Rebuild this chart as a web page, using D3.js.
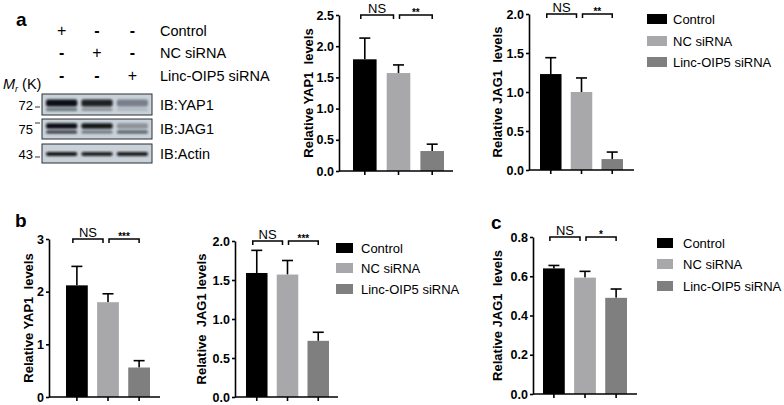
<!DOCTYPE html>
<html><head><meta charset="utf-8">
<script src="https://cdn.jsdelivr.net/npm/d3@7"></script>
<style>body{margin:0;background:#fff} svg{display:block;font-family:"Liberation Sans",Arial,sans-serif}</style>
</head><body><svg id="c" width="784" height="405"></svg>
<script>
// ---------- data ----------
const groups = ["Control", "NC siRNA", "Linc-OIP5 siRNA"];
const groupColors = ["#000000", "#a8a8aa", "#7f7f7f"];

const yap1A = [1.79, 1.57, 0.32];
const yap1AErr = [0.34, 0.13, 0.11];
const jag1A = [1.23, 1.00, 0.14];
const jag1AErr = [0.21, 0.18, 0.09];
const yap1B = [2.12, 1.80, 0.56];
const yap1BErr = [0.36, 0.16, 0.13];
const jag1B = [1.59, 1.57, 0.72];
const jag1BErr = [0.29, 0.18, 0.11];
const jag1C = [0.64, 0.593, 0.49];
const jag1CErr = [0.015, 0.032, 0.045];

const sigA1 = ["NS", "**"];
const sigA2 = ["NS", "**"];
const sigB1 = ["NS", "***"];
const sigB2 = ["NS", "***"];
const sigC = ["NS", "*"];

const ticksA1 = [0, 0.5, 1.0, 1.5, 2.0, 2.5];
const ticksA2 = [0, 0.5, 1.0, 1.5, 2.0];
const ticksB1 = [0, 1, 2, 3];
const ticksB2 = [0, 0.5, 1.0, 1.5, 2.0];
const ticksC = [0, 0.2, 0.4, 0.6, 0.8];

const rowLabels = ["Control", "NC siRNA", "Linc-OIP5 siRNA"];
const treatControl = ["+", "-", "-"];
const treatNC = ["-", "+", "-"];
const treatLinc = ["-", "-", "+"];
const mwLabels = ["72", "75", "43"];
const ibLabels = ["IB:YAP1", "IB:JAG1", "IB:Actin"];
const bandYAP1 = [1.0, 0.9, 0.4];
const bandYAP1Lower = [0.5, 0.3, 0.12];
const bandJAG1 = [1.0, 0.95, 0.3];
const bandJAG1Lower = [0.8, 0.45, 0.6];
const bandActin = [0.95, 0.9, 0.92];

// ---------- drawing ----------
const svg = d3.select("#c");
const defs = svg.append("defs");
defs.append("filter").attr("id", "blur").attr("x", "-20%").attr("y", "-80%").attr("width", "140%").attr("height", "260%")
  .append("feGaussianBlur").attr("stdDeviation", "1.2 0.8");

function panelLetter(t, x, y) {
  svg.append("text").attr("x", x).attr("y", y).attr("font-size", 19).attr("font-weight", "bold").text(t);
}

function barChart(cfg) {
  const g = svg.append("g");
  const maxV = cfg.ticks[cfg.ticks.length - 1];
  const y = d3.scaleLinear().domain([0, maxV]).range([cfg.bottom, cfg.top]);
  const x = d3.scaleBand().domain(groups).range([cfg.barFrom, cfg.barTo]).paddingInner(0.3).paddingOuter(0);
  const bw = x.bandwidth();
  const data = groups.map((k, i) => ({k, v: cfg.values[i], e: cfg.errs[i], c: groupColors[i]}));

  // error bars (upper only)
  g.selectAll(".eb").data(data).join("line")
    .attr("x1", d => x(d.k) + bw / 2).attr("x2", d => x(d.k) + bw / 2)
    .attr("y1", d => y(d.v)).attr("y2", d => y(d.v + d.e))
    .attr("stroke", "#000").attr("stroke-width", 1.6);
  g.selectAll(".cap").data(data).join("line")
    .attr("x1", d => x(d.k) + bw / 2 - 5.5).attr("x2", d => x(d.k) + bw / 2 + 5.5)
    .attr("y1", d => y(d.v + d.e)).attr("y2", d => y(d.v + d.e))
    .attr("stroke", "#000").attr("stroke-width", 1.6);
  g.selectAll(".bar").data(data).join("rect")
    .attr("x", d => x(d.k)).attr("width", bw)
    .attr("y", d => y(d.v)).attr("height", d => cfg.bottom - y(d.v))
    .attr("fill", d => d.c);

  // y axis
  const ya = g.append("g").attr("transform", `translate(${cfg.axisX},0)`)
    .call(d3.axisLeft(y).tickValues(cfg.ticks).tickFormat(cfg.fmt).tickSize(3).tickSizeOuter(0).tickPadding(2));
  ya.attr("font-size", 12.5).attr("font-family", "Liberation Sans, Arial, sans-serif");
  ya.selectAll("path,line").attr("stroke", "#000").attr("stroke-width", 1.6);
  ya.selectAll("text").attr("font-weight", "bold").attr("fill", "#000");

  // x axis
  g.append("line").attr("x1", cfg.axisX).attr("x2", cfg.axisEnd).attr("y1", cfg.bottom).attr("y2", cfg.bottom)
    .attr("stroke", "#000").attr("stroke-width", 1.6);
  g.selectAll(".xt").data(data).join("line")
    .attr("x1", d => x(d.k) + bw / 2).attr("x2", d => x(d.k) + bw / 2)
    .attr("y1", cfg.bottom).attr("y2", cfg.bottom + 4)
    .attr("stroke", "#000").attr("stroke-width", 1.6);

  // axis title
  g.append("text").attr("transform", `translate(${cfg.titleX},${(cfg.top + cfg.bottom) / 2}) rotate(-90)`)
    .attr("text-anchor", "middle").attr("dominant-baseline", "central")
    .attr("font-size", 13).attr("font-weight", "bold").attr("xml:space", "preserve")
    .style("white-space", "pre").text(cfg.title);

  // significance brackets
  const c = groups.map(k => x(k) + bw / 2);
  const yb = y(maxV);
  const br = [[c[0] - 4, c[1] - 5], [c[1] + 1, c[2]]];
  br.forEach((b, i) => {
    g.append("path").attr("d", `M${b[0]},${yb + 4}V${yb}H${b[1]}V${yb + 4}`)
      .attr("fill", "none").attr("stroke", "#000").attr("stroke-width", 1.5);
    const s = cfg.sig[i];
    const isNS = s === "NS";
    g.append("text").attr("x", (b[0] + b[1]) / 2).attr("y", isNS ? yb - 2 : yb + 1)
      .attr("text-anchor", "middle").attr("font-size", isNS ? 13 : 10).attr("font-weight", isNS ? "normal" : "bold")
      .text(s);
  });
}

function legend(x0, ys, sw, sh, tx) {
  const g = svg.append("g");
  groups.forEach((k, i) => {
    g.append("rect").attr("x", x0).attr("y", ys[i] - sh / 2).attr("width", sw).attr("height", sh).attr("fill", groupColors[i]);
    g.append("text").attr("x", tx).attr("y", ys[i] + 4.7).attr("font-size", 13).text(k);
  });
}

// ----- panel a : blot -----
panelLetter("a", 16, 26);
const laneX = d3.scaleBand().domain([0, 1, 2]).range([45, 149]).paddingInner(0.06);
const treat = [treatControl, treatNC, treatLinc];
const rowY = [31, 53, 76];
treat.forEach((row, r) => {
  row.forEach((s, i) => {
    svg.append("text").attr("x", laneX(i) + laneX.bandwidth() / 2).attr("y", rowY[r] + 5)
      .attr("text-anchor", "middle").attr("font-size", 16).attr("font-weight", s === "+" ? "normal" : "bold").text(s);
  });
  svg.append("text").attr("x", 160).attr("y", rowY[r] + 5).attr("font-size", 14.5).text(rowLabels[r]);
});
// Mr (K)
const mr = svg.append("text").attr("x", 3).attr("y", 89).attr("font-size", 14.5);
mr.append("tspan").attr("font-style", "italic").text("M");
mr.append("tspan").attr("font-style", "italic").attr("font-size", 9).attr("dy", 3).text("r");
mr.append("tspan").attr("dy", -3).text(" (K)");

const blots = [
  {y0: 94, y1: 115, bands: [{v: bandYAP1, y: 103, h: 7}, {v: bandYAP1Lower, y: 109.5, h: 3}], tick: 107},
  {y0: 119, y1: 139, bands: [{v: bandJAG1, y: 126, h: 5.5}, {v: bandJAG1Lower, y: 132, h: 3}], tick: 123},
  {y0: 144, y1: 163, bands: [{v: bandActin, y: 154, h: 4}], tick: 157}
];
blots.forEach((b, bi) => {
  svg.append("rect").attr("x", 42).attr("y", b.y0).attr("width", 110).attr("height", b.y1 - b.y0)
    .attr("fill", "#c9d1d9").attr("stroke", "#2a2f35").attr("stroke-width", 1);
  b.bands.forEach(bd => {
    svg.append("g").attr("filter", "url(#blur)").selectAll("rect").data(bd.v).join("rect")
      .attr("x", (d, i) => laneX(i) + 1).attr("width", laneX.bandwidth() - 2)
      .attr("y", bd.y - bd.h / 2).attr("height", bd.h).attr("rx", 2)
      .attr("fill", "#0a0e12").attr("opacity", d => d);
  });
  svg.append("text").attr("x", 33).attr("y", (b.y0 + b.y1) / 2 + 5).attr("text-anchor", "end")
    .attr("font-size", 13).text(mwLabels[bi]);
  svg.append("line").attr("x1", 35).attr("x2", 40).attr("y1", b.tick).attr("y2", b.tick)
    .attr("stroke", "#333").attr("stroke-width", 1);
  svg.append("text").attr("x", 160).attr("y", (b.y0 + b.y1) / 2 + 5).attr("font-size", 14.5).text(ibLabels[bi]);
});

// ----- panel a charts -----
const f1 = d3.format(".1f");
barChart({values: yap1A, errs: yap1AErr, ticks: ticksA1, fmt: f1, sig: sigA1, title: "Relative YAP1  levels",
  axisX: 339, axisEnd: 453, barFrom: 353, barTo: 444, top: 15, bottom: 171, titleX: 308});
barChart({values: jag1A, errs: jag1AErr, ticks: ticksA2, fmt: f1, sig: sigA2, title: "Relative JAG1  levels",
  axisX: 529, axisEnd: 634, barFrom: 540, barTo: 623, top: 14, bottom: 170, titleX: 497});
legend(647, [19, 41, 62], 20, 10, 673);

// ----- panel b -----
panelLetter("b", 15, 227);
barChart({values: yap1B, errs: yap1BErr, ticks: ticksB1, fmt: d3.format("d"), sig: sigB1, title: "Relative YAP1  levels",
  axisX: 49, axisEnd: 160, barFrom: 66, barTo: 150, top: 239, bottom: 397, titleX: 28});
barChart({values: jag1B, errs: jag1BErr, ticks: ticksB2, fmt: f1, sig: sigB2, title: "Relative  JAG1 levels",
  axisX: 235, axisEnd: 338, barFrom: 246, barTo: 329, top: 241, bottom: 397, titleX: 201});
legend(336, [248, 268, 289], 17, 10, 361);

// ----- panel c -----
panelLetter("c", 491, 229);
barChart({values: jag1C, errs: jag1CErr, ticks: ticksC, fmt: f1, sig: sigC, title: "Relative JAG1  levels",
  axisX: 533, axisEnd: 637, barFrom: 543, barTo: 627, top: 237, bottom: 394, titleX: 497});
legend(657, [243, 264, 286], 16, 10, 683);
</script></body></html>
